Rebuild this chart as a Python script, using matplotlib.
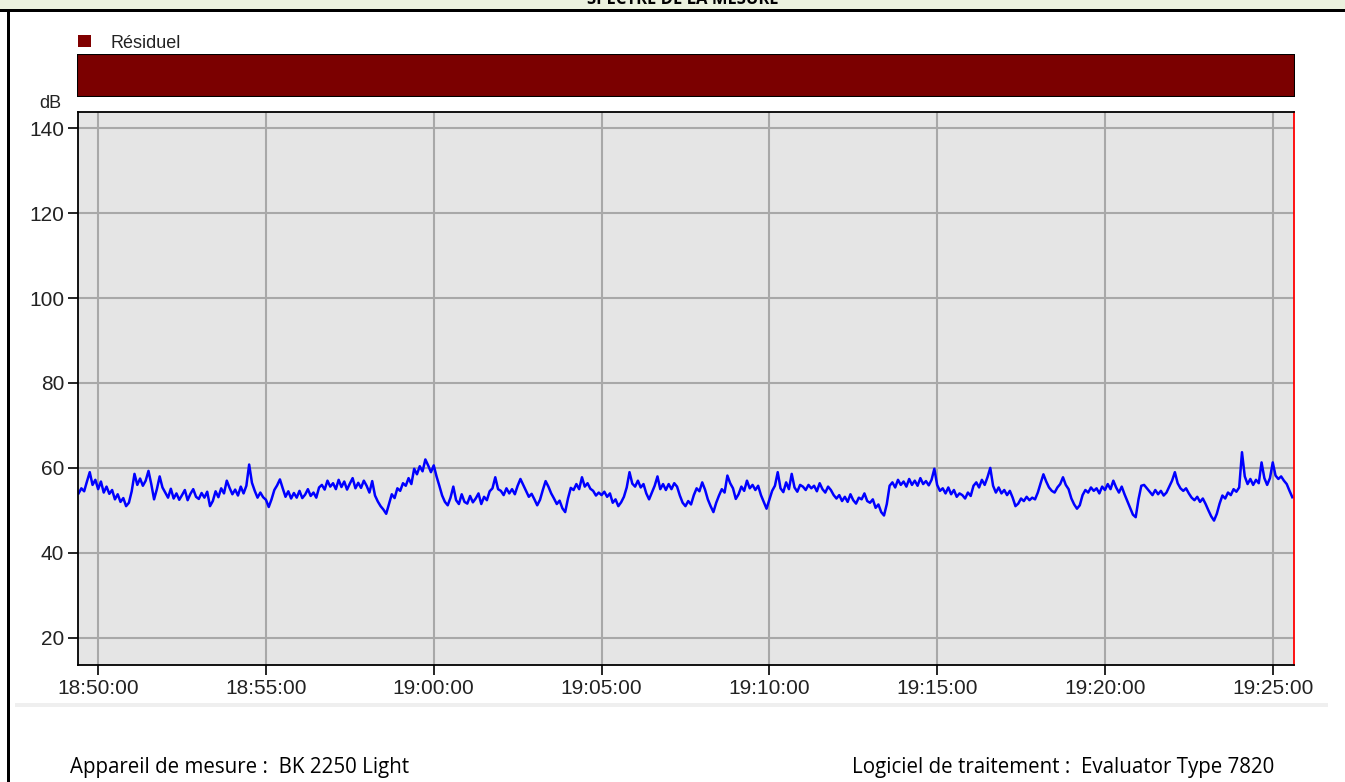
import datetime as dt

import matplotlib.pyplot as plt
import matplotlib.dates as mdates
import numpy as np
from matplotlib.patches import Rectangle

titre = "SPECTRE DE LA MESURE"
appareil = "Appareil de mesure :  BK 2250 Light"
logiciel = "Logiciel de traitement :  Evaluator Type 7820"
periode = ("Résiduel", "18:49:24", "19:25:38")

debut = "18:49:25"
pas_s = 5
# niveaux relevés tous les 5 s (dB), lignes = minutes
niveaux = [
    54.0, 55.2, 54.5, 56.8, 59.0, 56.0, 57.2,
    55.0, 56.8, 54.2, 55.6, 53.9, 54.8, 52.6, 53.8, 52.0, 52.9, 51.0, 51.8,
    54.5, 58.6, 56.0, 57.5, 55.8, 57.0, 59.3, 56.2, 52.6, 55.0, 58.0, 55.4,
    54.2, 53.0, 55.1, 52.8, 54.0, 52.5, 53.6, 54.8, 52.4, 53.9, 55.0, 53.2,
    52.7, 54.1, 53.0, 54.4, 51.0, 52.2, 54.5, 53.1, 55.2, 54.0, 57.0, 55.3,
    53.8, 54.9, 53.5, 55.6, 54.0, 55.8, 60.8, 56.5, 54.6, 53.0, 54.2, 53.1,
    52.5, 50.8, 52.6, 54.8, 55.9, 57.3, 55.2, 53.2, 54.5, 52.8, 54.1, 53.0,
    54.6, 52.9, 53.7, 55.0, 53.4, 54.2, 53.0, 55.4, 56.0, 54.9, 57.0, 55.6,
    56.4, 55.0, 57.2, 55.5, 56.8, 54.9, 56.3, 57.6, 55.2, 56.5, 55.3, 57.0,
    55.8, 54.2, 56.9, 53.5, 52.1, 51.0, 50.2, 49.2, 51.5, 53.8, 52.9, 55.2,
    54.6, 56.4, 55.8, 57.6, 56.2, 59.8, 58.5, 60.4, 59.2, 62.0, 60.6, 59.0,
    60.6, 58.0, 55.8, 53.5, 52.0, 51.2, 53.0, 55.6, 52.4, 51.5, 53.8, 52.0,
    51.6, 53.4, 51.9, 52.8, 54.0, 51.5, 53.2, 52.4, 54.5, 55.2, 57.8, 55.0,
    54.6, 53.6, 55.2, 54.0, 55.0, 53.8, 55.8, 57.4, 56.0, 54.6, 53.2, 53.9,
    52.6, 51.2, 52.5, 54.8, 56.9, 55.6, 54.0, 52.8, 51.5, 52.3, 50.5, 49.6,
    52.8, 55.3, 54.8, 56.2, 55.0, 57.8, 55.6, 56.4, 55.1, 54.6, 53.5, 54.2,
    53.6, 54.4, 53.2, 54.0, 51.8, 52.6, 51.0, 51.9, 53.2, 55.4, 59.0, 56.3,
    55.6, 57.0, 55.4, 56.2, 54.0, 52.6, 54.2, 55.8, 58.0, 55.0, 56.2, 54.8,
    56.2, 55.0, 56.4, 55.6, 53.5, 51.8, 51.0, 52.2, 51.4, 53.6, 55.2, 54.5,
    56.6, 54.9, 52.6, 51.0, 49.6, 51.8, 53.5, 55.0, 54.2, 58.2, 56.4, 55.2,
    52.7, 53.8, 55.6, 54.6, 57.0, 55.2, 56.0, 54.8, 55.8, 53.6, 52.0, 50.4,
    52.5, 54.6, 55.8, 59.0, 55.2, 54.3, 56.6, 55.0, 58.6, 55.4, 54.4, 56.0,
    55.6, 54.8, 56.0, 55.2, 55.8, 54.5, 56.4, 55.0, 54.2, 55.6, 54.8, 53.6,
    52.8, 53.6, 52.2, 53.2, 52.0, 53.8, 52.4, 51.6, 53.0, 52.6, 54.0, 52.2,
    51.8, 52.6, 50.6, 51.4, 49.6, 48.8, 51.5, 55.8, 56.6, 55.4, 57.2, 56.0,
    56.8, 55.6, 57.4, 56.0, 57.0, 55.8, 57.6, 56.2, 56.9, 55.9, 57.2, 59.8,
    56.0, 54.6, 55.2, 54.0, 55.4, 53.8, 54.8, 53.2, 54.0, 53.6, 52.8, 54.2,
    53.4, 55.8, 56.6, 55.4, 57.2, 56.0, 57.8, 60.0, 55.8, 54.2, 55.4, 54.0,
    54.8, 53.6, 54.6, 53.0, 51.0, 51.6, 52.8, 52.2, 53.2, 52.4, 53.0, 52.6,
    54.2, 56.4, 58.5, 56.8, 55.4, 54.6, 54.2, 55.4, 56.2, 57.8, 56.0, 55.0,
    52.8, 51.4, 50.4, 51.2, 53.6, 54.8, 54.2, 55.4, 54.6, 55.2, 54.0, 55.6,
    54.8, 56.2, 55.0, 57.0, 55.4, 54.2, 55.6, 53.8, 52.2, 50.6, 49.0, 48.4,
    52.6, 55.8, 56.0, 55.2, 54.4, 53.6, 54.8, 53.8, 54.6, 53.5, 54.2, 55.6,
    57.0, 59.0, 56.4, 55.2, 54.6, 55.2, 54.0, 53.0, 52.4, 53.2, 52.0, 52.8,
    51.5, 50.0, 48.6, 47.6, 49.2, 51.6, 53.5, 52.8, 54.2, 53.6, 55.0, 54.4,
    55.4, 63.7, 58.0, 56.2, 57.4, 56.0, 57.2, 56.4, 61.3, 57.6, 56.0, 57.6,
    61.3, 58.2, 57.4, 58.0, 57.0, 56.2, 54.6, 53.1,
]
yticks = [20, 40, 60, 80, 100, 120, 140]


def heure(h):
    return dt.datetime.strptime("2020-01-01 " + h, "%Y-%m-%d %H:%M:%S")


t0 = heure(debut)
temps = [t0 + dt.timedelta(seconds=pas_s * i) for i in range(len(niveaux))]
xmin, xmax = heure(periode[1]), heure(periode[2])

W, H = 1345, 782
fig = plt.figure(figsize=(W / 100, H / 100), dpi=100)

# bandeau du haut
fig.patches.append(Rectangle((0, 1 - 9 / H), 1, 9 / H, transform=fig.transFigure,
                             facecolor='#ebf1de', edgecolor='none'))
fig.patches.append(Rectangle((0, 1 - 12 / H), 1, 3 / H, transform=fig.transFigure,
                             facecolor='black', edgecolor='none'))
fig.patches.append(Rectangle((7 / W, 0), 3 / W, 1 - 12 / H, transform=fig.transFigure,
                             facecolor='black', edgecolor='none'))
fig.patches.append(Rectangle((15 / W, 1 - 707 / H), 1313 / W, 4 / H,
                             transform=fig.transFigure, facecolor='#efefef',
                             edgecolor='none'))
# titre coupé par le bandeau, comme sur l'original
fig.text(683 / W, 1 - 4 / H, titre, ha='center', va='baseline', fontsize=12,
         fontweight='bold', family='Open Sans', color='black')

# barre des périodes
axb = fig.add_axes([77 / W, 1 - 97 / H, 1218 / W, 43 / H])
axb.barh(0, mdates.date2num(xmax) - mdates.date2num(xmin),
         left=mdates.date2num(xmin), height=1, color='#7b0000',
         edgecolor='black', linewidth=1.5)
axb.set_xlim(xmin, xmax)
axb.set_ylim(-0.5, 0.5)
axb.axis('off')

fig.patches.append(Rectangle((78 / W, 1 - 47 / H), 13 / W, 12 / H,
                             transform=fig.transFigure, facecolor='#800000',
                             edgecolor='none'))
fig.text(110 / W, 1 - 43 / H, periode[0], ha='left', va='center', fontsize=13,
         family='Liberation Sans', color='#222222')
fig.text(50 / W, 1 - 103 / H, "dB", ha='center', va='center', fontsize=13,
         family='Liberation Sans', color='#222222')

# courbe
ax = fig.add_axes([78 / W, 1 - 665 / H, 1216 / W, 553 / H])
ax.set_facecolor('#e5e5e5')
ax.plot(temps, niveaux, color='#0000ff', linewidth=1.8)
ax.set_xlim(xmin, xmax)
ax.set_ylim(13.6, 143.8)
ax.set_yticks(yticks)
ax.xaxis.set_major_locator(mdates.MinuteLocator(byminute=range(0, 60, 5)))
ax.xaxis.set_major_formatter(mdates.DateFormatter('%H:%M:%S'))
ax.grid(True, color='#a8a8a8', linewidth=1.5)
ax.set_axisbelow(True)
ax.tick_params(direction='out', length=7, width=1.2, pad=3, labelsize=15,
               labelcolor='#222222')
for lab in ax.get_xticklabels() + ax.get_yticklabels():
    lab.set_family('Liberation Sans')
for s in ['left', 'bottom', 'top']:
    ax.spines[s].set_linewidth(1.3)
ax.spines['right'].set_color('red')
ax.spines['right'].set_linewidth(1.3)

fig.text(70 / W, 1 - 767 / H, appareil, ha='left', va='center', fontsize=14.8,
         family='Open Sans')
fig.text(852 / W, 1 - 767 / H, logiciel, ha='left', va='center', fontsize=14.8,
         family='Open Sans')

fig.savefig('out.png', dpi=100)
